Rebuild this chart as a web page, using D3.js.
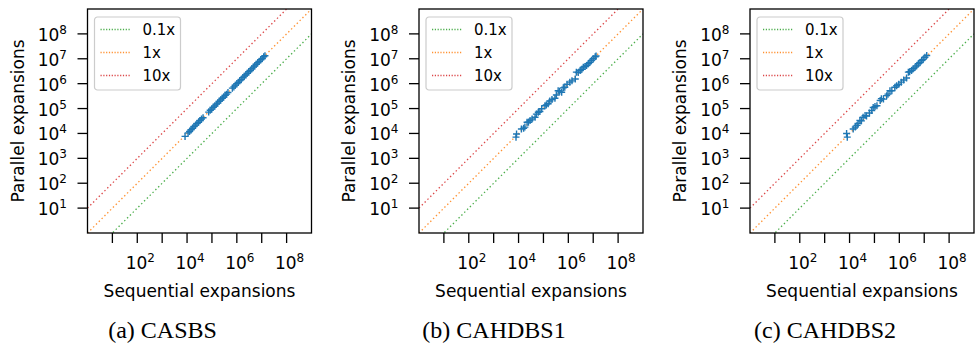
<!DOCTYPE html>
<html>
<head>
<meta charset="utf-8">
<script src="https://cdn.jsdelivr.net/npm/d3@7"></script>
<style>
  body { margin: 0; background: #fff; }
  svg { display: block; }
</style>
</head>
<body>
<div id="chart"></div>
<script>
// ---- data ----
const casbsSeq = [8.3e3, 1.1e4, 1.26e4, 1.45e4, 1.66e4, 1.9e4, 2.2e4, 2.5e4, 2.9e4, 3.3e4, 3.8e4, 4.4e4,
  7.4e4, 8.5e4, 9.8e4, 1.12e5, 1.3e5, 1.5e5, 1.7e5, 1.95e5, 2.24e5, 2.6e5, 2.95e5, 3.4e5, 3.9e5, 4.4e5,
  6.6e5, 7.6e5, 8.7e5, 1.0e6, 1.15e6, 1.3e6, 1.5e6, 1.75e6, 2.0e6, 2.3e6, 2.6e6, 3.0e6, 3.5e6, 4.0e6,
  4.6e6, 5.2e6, 6.0e6, 6.9e6, 7.9e6, 9.1e6, 1.05e7, 1.2e7, 1.35e7];
const casbsPar = [7.6e3, 1.05e4, 1.2e4, 1.4e4, 1.62e4, 1.9e4, 2.15e4, 2.5e4, 2.8e4, 3.3e4, 3.8e4, 4.3e4,
  7.2e4, 8.5e4, 9.5e4, 1.12e5, 1.26e5, 1.5e5, 1.66e5, 1.95e5, 2.2e5, 2.6e5, 2.9e5, 3.4e5, 3.8e5, 4.4e5,
  6.6e5, 7.4e5, 8.7e5, 1.0e6, 1.12e6, 1.3e6, 1.48e6, 1.75e6, 2.0e6, 2.24e6, 2.6e6, 3.0e6, 3.4e6, 4.0e6,
  4.6e6, 5.1e6, 6.0e6, 6.9e6, 7.8e6, 9.1e6, 1.02e7, 1.2e7, 1.32e7];

const cahdbs1Seq = [8.3e3, 7.9e3, 1.3e4, 1.6e4, 1.8e4, 2.2e4, 2.5e4, 2.9e4, 3.5e4, 4.6e4, 5.2e4, 6.2e4,
  7.2e4, 8.5e4, 1.15e5, 1.3e5, 1.55e5, 1.8e5, 2.2e5, 2.9e5, 3.3e5, 3.9e5, 4.5e5, 5.4e5, 6.3e5, 7.2e5,
  8.9e5, 1.15e6, 1.4e6, 1.9e6, 2.1e6, 2.5e6, 3.0e6, 3.5e6, 4.0e6, 4.7e6, 5.4e6, 6.3e6, 7.4e6, 8.5e6,
  1.0e7, 1.2e7, 1.3e7];
const cahdbs1Par = [9.5e3, 7.1e3, 1.5e4, 1.6e4, 1.8e4, 2.8e4, 2.8e4, 3.3e4, 3.8e4, 4.5e4, 6.0e4, 7.1e4,
  7.6e4, 9.8e4, 1.3e5, 1.4e5, 1.55e5, 2.0e5, 2.3e5, 2.6e5, 3.5e5, 5.2e5, 5.0e5, 4.5e5, 6.8e5, 7.2e5,
  9.5e5, 1.15e6, 1.3e6, 1.55e6, 2.9e6, 2.8e6, 3.4e6, 3.8e6, 4.6e6, 4.9e6, 5.4e6, 6.3e6, 7.2e6, 8.5e6,
  1.0e7, 1.2e7, 1.3e7];

const cahdbs2Seq = [7.6e3, 8.1e3, 1.4e4, 1.7e4, 2.0e4, 2.2e4, 2.6e4, 3.0e4, 3.5e4, 4.2e4, 4.8e4, 6.3e4,
  7.8e4, 8.9e4, 1.05e5, 1.26e5, 1.7e5, 1.9e5, 2.3e5, 3.1e5, 3.5e5, 4.2e5, 5.0e5, 6.6e5, 7.8e5, 9.5e5,
  1.2e6, 1.5e6, 1.95e6, 2.3e6, 2.6e6, 3.1e6, 3.6e6, 4.3e6, 5.0e6, 5.8e6, 6.8e6, 7.9e6, 9.1e6, 1.07e7,
  1.26e7];
const cahdbs2Par = [1.0e4, 7.1e3, 1.5e4, 1.8e4, 2.1e4, 2.5e4, 3.3e4, 3.2e4, 4.5e4, 5.2e4, 5.0e4, 6.6e4,
  8.3e4, 1.1e5, 1.2e5, 1.3e5, 2.1e5, 2.5e5, 2.4e5, 3.3e5, 3.8e5, 5.2e5, 5.2e5, 7.2e5, 8.3e5, 9.5e5,
  1.15e6, 1.4e6, 1.7e6, 2.9e6, 3.0e6, 3.4e6, 4.0e6, 4.6e6, 5.2e6, 6.3e6, 7.1e6, 8.5e6, 9.5e6, 1.15e7,
  1.35e7];

const captions = ["(a) CASBS", "(b) CAHDBS1", "(c) CAHDBS2"];
const seqSeries = [casbsSeq, cahdbs1Seq, cahdbs2Seq];
const parSeries = [casbsPar, cahdbs1Par, cahdbs2Par];

const ratios = [0.1, 1, 10];
const ratioLabels = ["0.1x", "1x", "10x"];
const ratioColors = ["#2ca02c", "#ff7f0e", "#d62728"];

const tickExps = [1, 2, 3, 4, 5, 6, 7, 8];
const xLabelExps = [2, 4, 6, 8];
const axisDomain = [1, 1e9];

// ---- layout ----
const width = 976, height = 348;
const panelLefts = [87.5, 419, 750];
const plotTop = 9;
const plotSize = 224;
const tickLen = 10;
const font = "DejaVu Sans, sans-serif";

const svg = d3.select("#chart").append("svg")
  .attr("width", width)
  .attr("height", height);

const x = d3.scaleLog().domain(axisDomain).range([0, plotSize]);
const y = d3.scaleLog().domain(axisDomain).range([plotSize, 0]);

function powLabel(sel, exp, anchor) {
  sel.attr("text-anchor", anchor).style("font-family", font);
  sel.append("tspan").attr("font-size", 17).text("10");
  sel.append("tspan").attr("font-size", 12).attr("dy", -7).text(exp);
}

panelLefts.forEach((left, pi) => {
  const g = svg.append("g").attr("transform", `translate(${left},${plotTop})`);

  svg.append("defs").append("clipPath").attr("id", `clip${pi}`)
    .append("rect").attr("width", plotSize).attr("height", plotSize);

  const plot = g.append("g").attr("clip-path", `url(#clip${pi})`);

  // reference ratio lines
  ratios.forEach((r, i) => {
    plot.append("line")
      .attr("x1", x(axisDomain[0])).attr("y1", y(axisDomain[0] * r))
      .attr("x2", x(axisDomain[1])).attr("y2", y(axisDomain[1] * r))
      .attr("stroke", ratioColors[i])
      .attr("stroke-width", 1.3)
      .attr("stroke-dasharray", "1.4,2.6")
      .attr("opacity", 0.85);
  });

  // points
  const pts = seqSeries[pi].map((s, i) => [s, parSeries[pi][i]]);
  const m = 3.5;
  plot.selectAll("path.pt").data(pts).enter().append("path")
    .attr("class", "pt")
    .attr("d", `M${-m},0H${m}M0,${-m}V${m}`)
    .attr("transform", (d) => `translate(${x(d[0])},${y(d[1])})`)
    .attr("stroke", "#1f77b4")
    .attr("stroke-width", 1.4)
    .attr("fill", "none");

  // frame
  g.append("rect")
    .attr("width", plotSize).attr("height", plotSize)
    .attr("fill", "none").attr("stroke", "#000").attr("stroke-width", 1.3);

  // x ticks
  const xt = g.append("g").attr("transform", `translate(0,${plotSize})`);
  xt.selectAll("line").data(tickExps).enter().append("line")
    .attr("x1", (e) => x(Math.pow(10, e))).attr("x2", (e) => x(Math.pow(10, e)))
    .attr("y1", 0).attr("y2", tickLen)
    .attr("stroke", "#000").attr("stroke-width", 1.3);
  xLabelExps.forEach((e) => {
    xt.append("text")
      .attr("x", x(Math.pow(10, e)) + 3)
      .attr("y", 35.5)
      .call(powLabel, e, "middle");
  });

  // y ticks
  const yt = g.append("g");
  yt.selectAll("line").data(tickExps).enter().append("line")
    .attr("y1", (e) => y(Math.pow(10, e))).attr("y2", (e) => y(Math.pow(10, e)))
    .attr("x1", 0).attr("x2", -tickLen)
    .attr("stroke", "#000").attr("stroke-width", 1.3);
  tickExps.forEach((e) => {
    yt.append("text")
      .attr("x", -20.5)
      .attr("y", y(Math.pow(10, e)) + 7)
      .call(powLabel, e, "end");
  });

  // axis titles
  g.append("text")
    .attr("transform", "rotate(-90)")
    .attr("x", -plotSize / 2)
    .attr("y", -64)
    .attr("text-anchor", "middle")
    .style("font-family", font)
    .attr("font-size", 17)
    .text("Parallel expansions");
  g.append("text")
    .attr("x", plotSize / 2)
    .attr("y", 288)
    .attr("text-anchor", "middle")
    .style("font-family", font)
    .attr("font-size", 17)
    .text("Sequential expansions");

  // caption
  g.append("text")
    .attr("x", plotSize / 2 - 37)
    .attr("y", 329)
    .attr("text-anchor", "middle")
    .style("font-family", "Liberation Serif, Times New Roman, serif")
    .attr("font-size", 24)
    .text(captions[pi]);

  // legend
  const lg = g.append("g").attr("transform", "translate(7,8)");
  lg.append("rect")
    .attr("width", 86).attr("height", 73).attr("rx", 3)
    .attr("fill", "#fff").attr("fill-opacity", 0.8)
    .attr("stroke", "#cccccc").attr("stroke-width", 1.2);
  ratioLabels.forEach((lab, i) => {
    const ry = 12.5 + i * 23;
    lg.append("line")
      .attr("x1", 6).attr("x2", 36).attr("y1", ry).attr("y2", ry)
      .attr("stroke", ratioColors[i]).attr("stroke-width", 1.3)
      .attr("stroke-dasharray", "1.2,1.6").attr("opacity", 0.85);
    lg.append("text")
      .attr("x", 48).attr("y", ry + 5.5)
      .style("font-family", font)
      .attr("font-size", 15)
      .text(lab);
  });
});
</script>
</body>
</html>
